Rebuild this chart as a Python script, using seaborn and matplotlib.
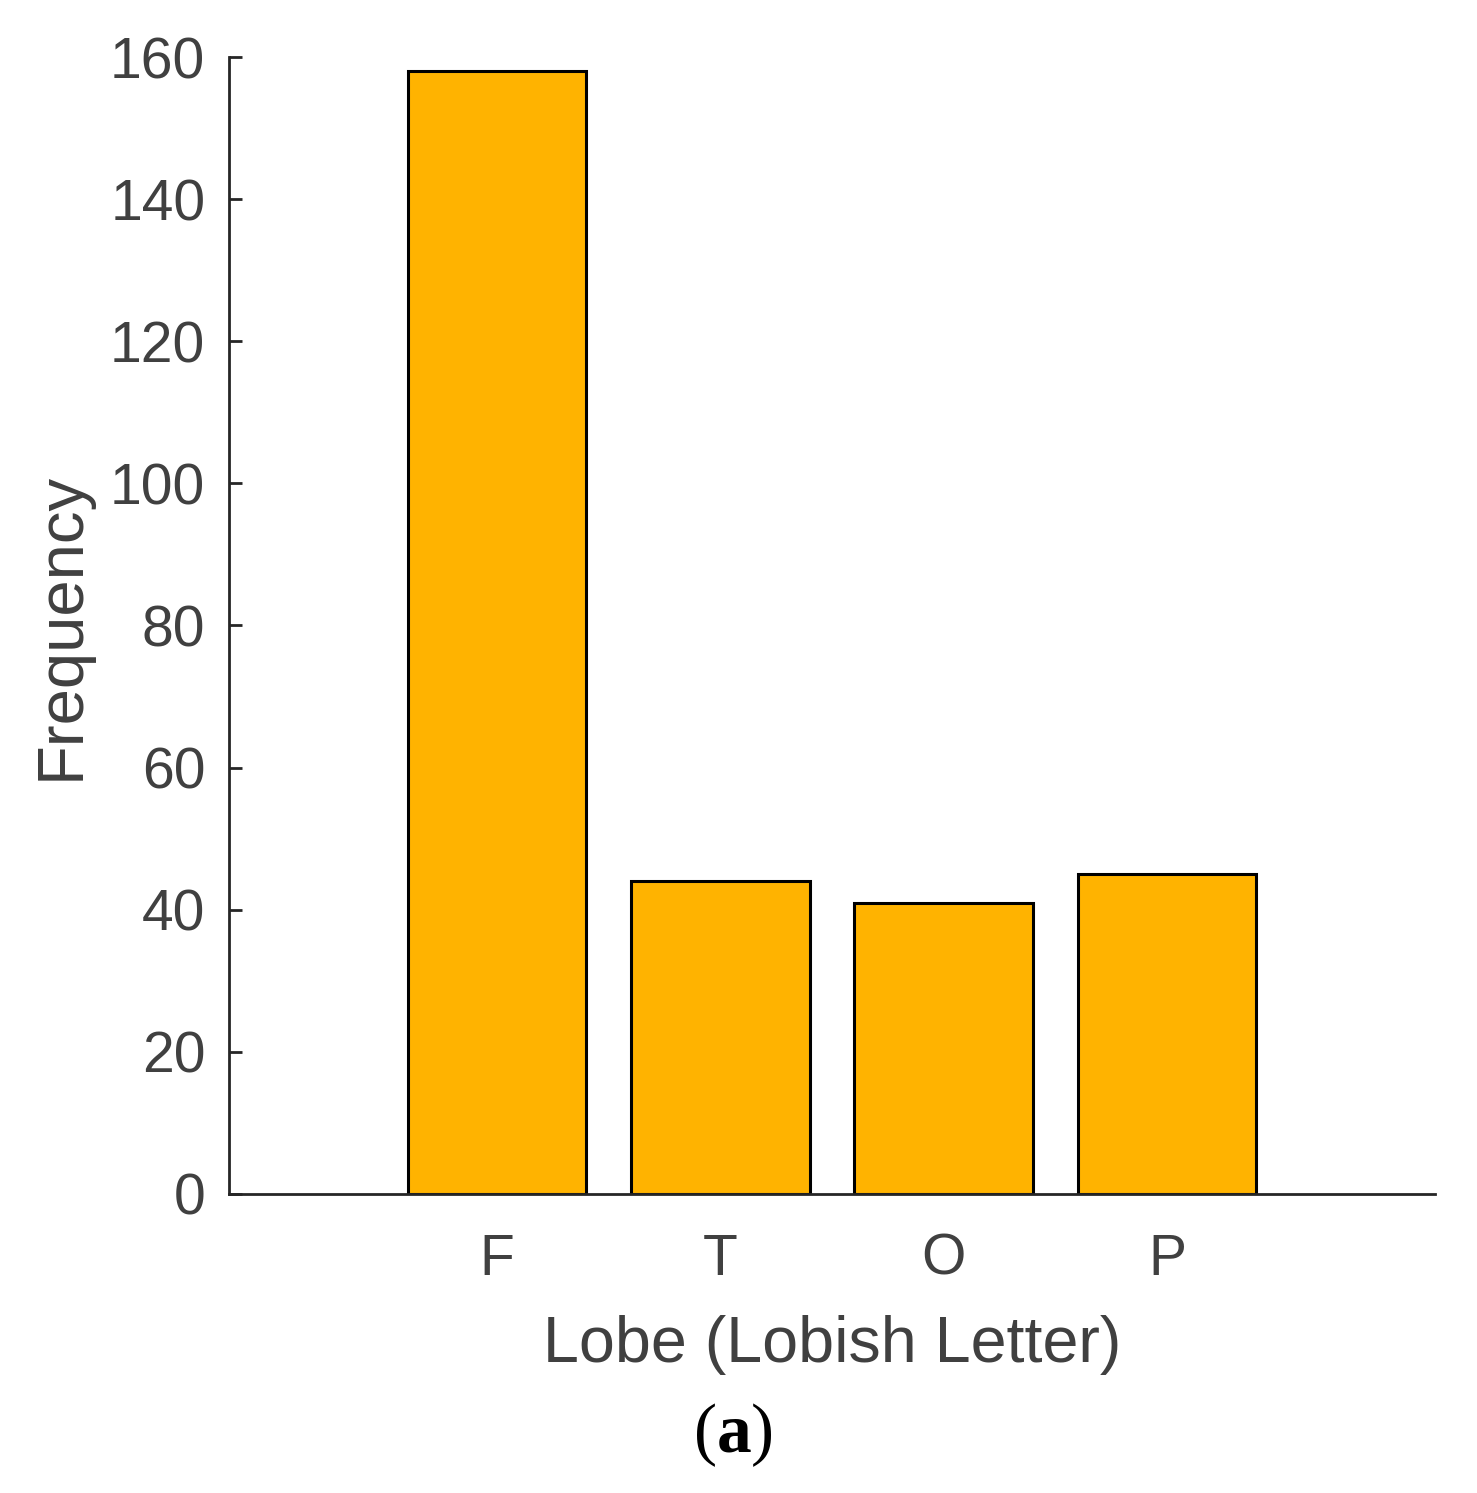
import pandas as pd
import matplotlib.pyplot as plt
import seaborn as sns

# data
lobes = ['F', 'T', 'O', 'P']
freq = [158, 44, 41, 45]
y_ticks = [0, 20, 40, 60, 80, 100, 120, 140, 160]

sns.set_style('ticks')
plt.rcParams['font.family'] = ['Liberation Sans', 'DejaVu Sans']
plt.rcParams['mathtext.fontset'] = 'custom'
plt.rcParams['mathtext.rm'] = 'Liberation Serif'
plt.rcParams['mathtext.bf'] = 'Liberation Serif:bold'

text_col = '#404040'
axis_col = '#262626'

df = pd.DataFrame({'lobe': lobes, 'freq': freq})

fig = plt.figure(figsize=(14.77, 14.93), dpi=100)
ax = fig.add_axes([0.155, 0.2003, 0.8166, 0.7615])

sns.barplot(data=df, x='lobe', y='freq', order=lobes, color='#FFB300',
            saturation=1, width=0.8, edgecolor='black', linewidth=2.2, ax=ax)

ax.set_xlim(-1.2, 4.2)
ax.set_ylim(0, 160)
ax.set_yticks(y_ticks)

sns.despine(ax=ax)
for s in ['left', 'bottom']:
    ax.spines[s].set_linewidth(2)
    ax.spines[s].set_color(axis_col)

ax.tick_params(axis='both', direction='in', length=9, width=2, color=axis_col,
               labelsize=41, labelcolor=text_col)
ax.tick_params(axis='y', pad=17)
ax.tick_params(axis='x', pad=28)

ax.set_xlabel('Lobe (Lobish Letter)', fontsize=46.5, color=text_col, labelpad=20)
ax.set_ylabel('Frequency', fontsize=47, color=text_col)
ax.yaxis.set_label_coords(-0.114, 0.5)

fig.text(0.496, 0.039, r'($\mathbf{a}$)', fontsize=50, ha='center', va='center',
         family='Liberation Serif', color='black')

plt.savefig('out.png', dpi=100)
plt.close()
